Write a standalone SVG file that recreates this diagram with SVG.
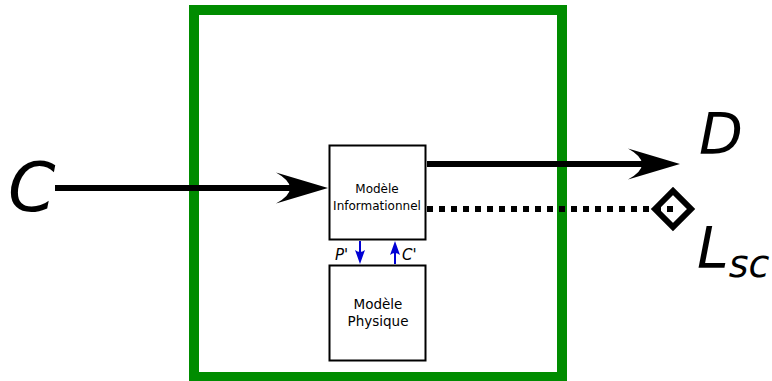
<svg xmlns="http://www.w3.org/2000/svg" width="772" height="381" viewBox="0 0 772 381">
<style>
.box{fill:#fff;stroke:#000;stroke-width:2}
.lbl{font-family:"DejaVu Sans",sans-serif;fill:#000;text-anchor:middle}
.big{font-family:"DejaVu Sans",sans-serif;font-style:italic;fill:#000}
.thick{stroke:#000;stroke-width:6;fill:none}
.blue{stroke:#0000d4;stroke-width:2;fill:none}
</style>
<defs>
<marker id="bigArrow" markerUnits="userSpaceOnUse" orient="auto" refX="0" refY="0" markerWidth="60" markerHeight="40" overflow="visible">
<path d="M33 0 L-19 -15.5 Q9 0 -19 15.5 Z" fill="#000"/>
</marker>
<marker id="blueArrow" markerUnits="userSpaceOnUse" orient="auto" refX="0" refY="0" markerWidth="20" markerHeight="20" overflow="visible">
<path d="M9 0 L-5 -5 Q-1 0 -5 5 Z" fill="#0000d4"/>
</marker>
</defs>
<rect id="system" x="194" y="10" width="368" height="367" fill="none" stroke="#008c00" stroke-width="10"/>
<g id="connectors">
<line class="thick" x1="55" y1="188" x2="295" y2="188" marker-end="url(#bigArrow)"/>
<line class="thick" x1="427" y1="164" x2="647" y2="164" marker-end="url(#bigArrow)"/>
<line class="thick" x1="427" y1="209" x2="673" y2="209" stroke-dasharray="6 6"/>
<path class="thick" d="M655 209 L673 191 L691 209 L673 227 Z"/>
<line class="blue" x1="360" y1="241" x2="360" y2="255" marker-end="url(#blueArrow)"/>
<line class="blue" x1="395" y1="264" x2="395" y2="250" marker-end="url(#blueArrow)"/>
</g>
<g id="informationnel">
<rect class="box" x="329.5" y="145.5" width="96" height="94"/>
<text class="lbl" font-size="12" x="377" y="193">Modèle</text>
<text class="lbl" font-size="12" x="377" y="210">Informationnel</text>
</g>
<g id="physique">
<rect class="box" x="329.5" y="265.5" width="96" height="95"/>
<text class="lbl" font-size="13.5" x="378" y="309">Modèle</text>
<text class="lbl" font-size="13.5" x="378" y="326">Physique</text>
</g>
<g id="labels">
<text class="big" font-size="68" x="8" y="211">C</text>
<text class="big" font-size="57" x="699" y="154">D</text>
<text class="big" font-size="57" x="697" y="268">L<tspan font-size="38" dy="9">sc</tspan></text>
<text class="big" font-size="15" x="335" y="260">P'</text>
<text class="big" font-size="15" x="402" y="260">C'</text>
</g>
</svg>
